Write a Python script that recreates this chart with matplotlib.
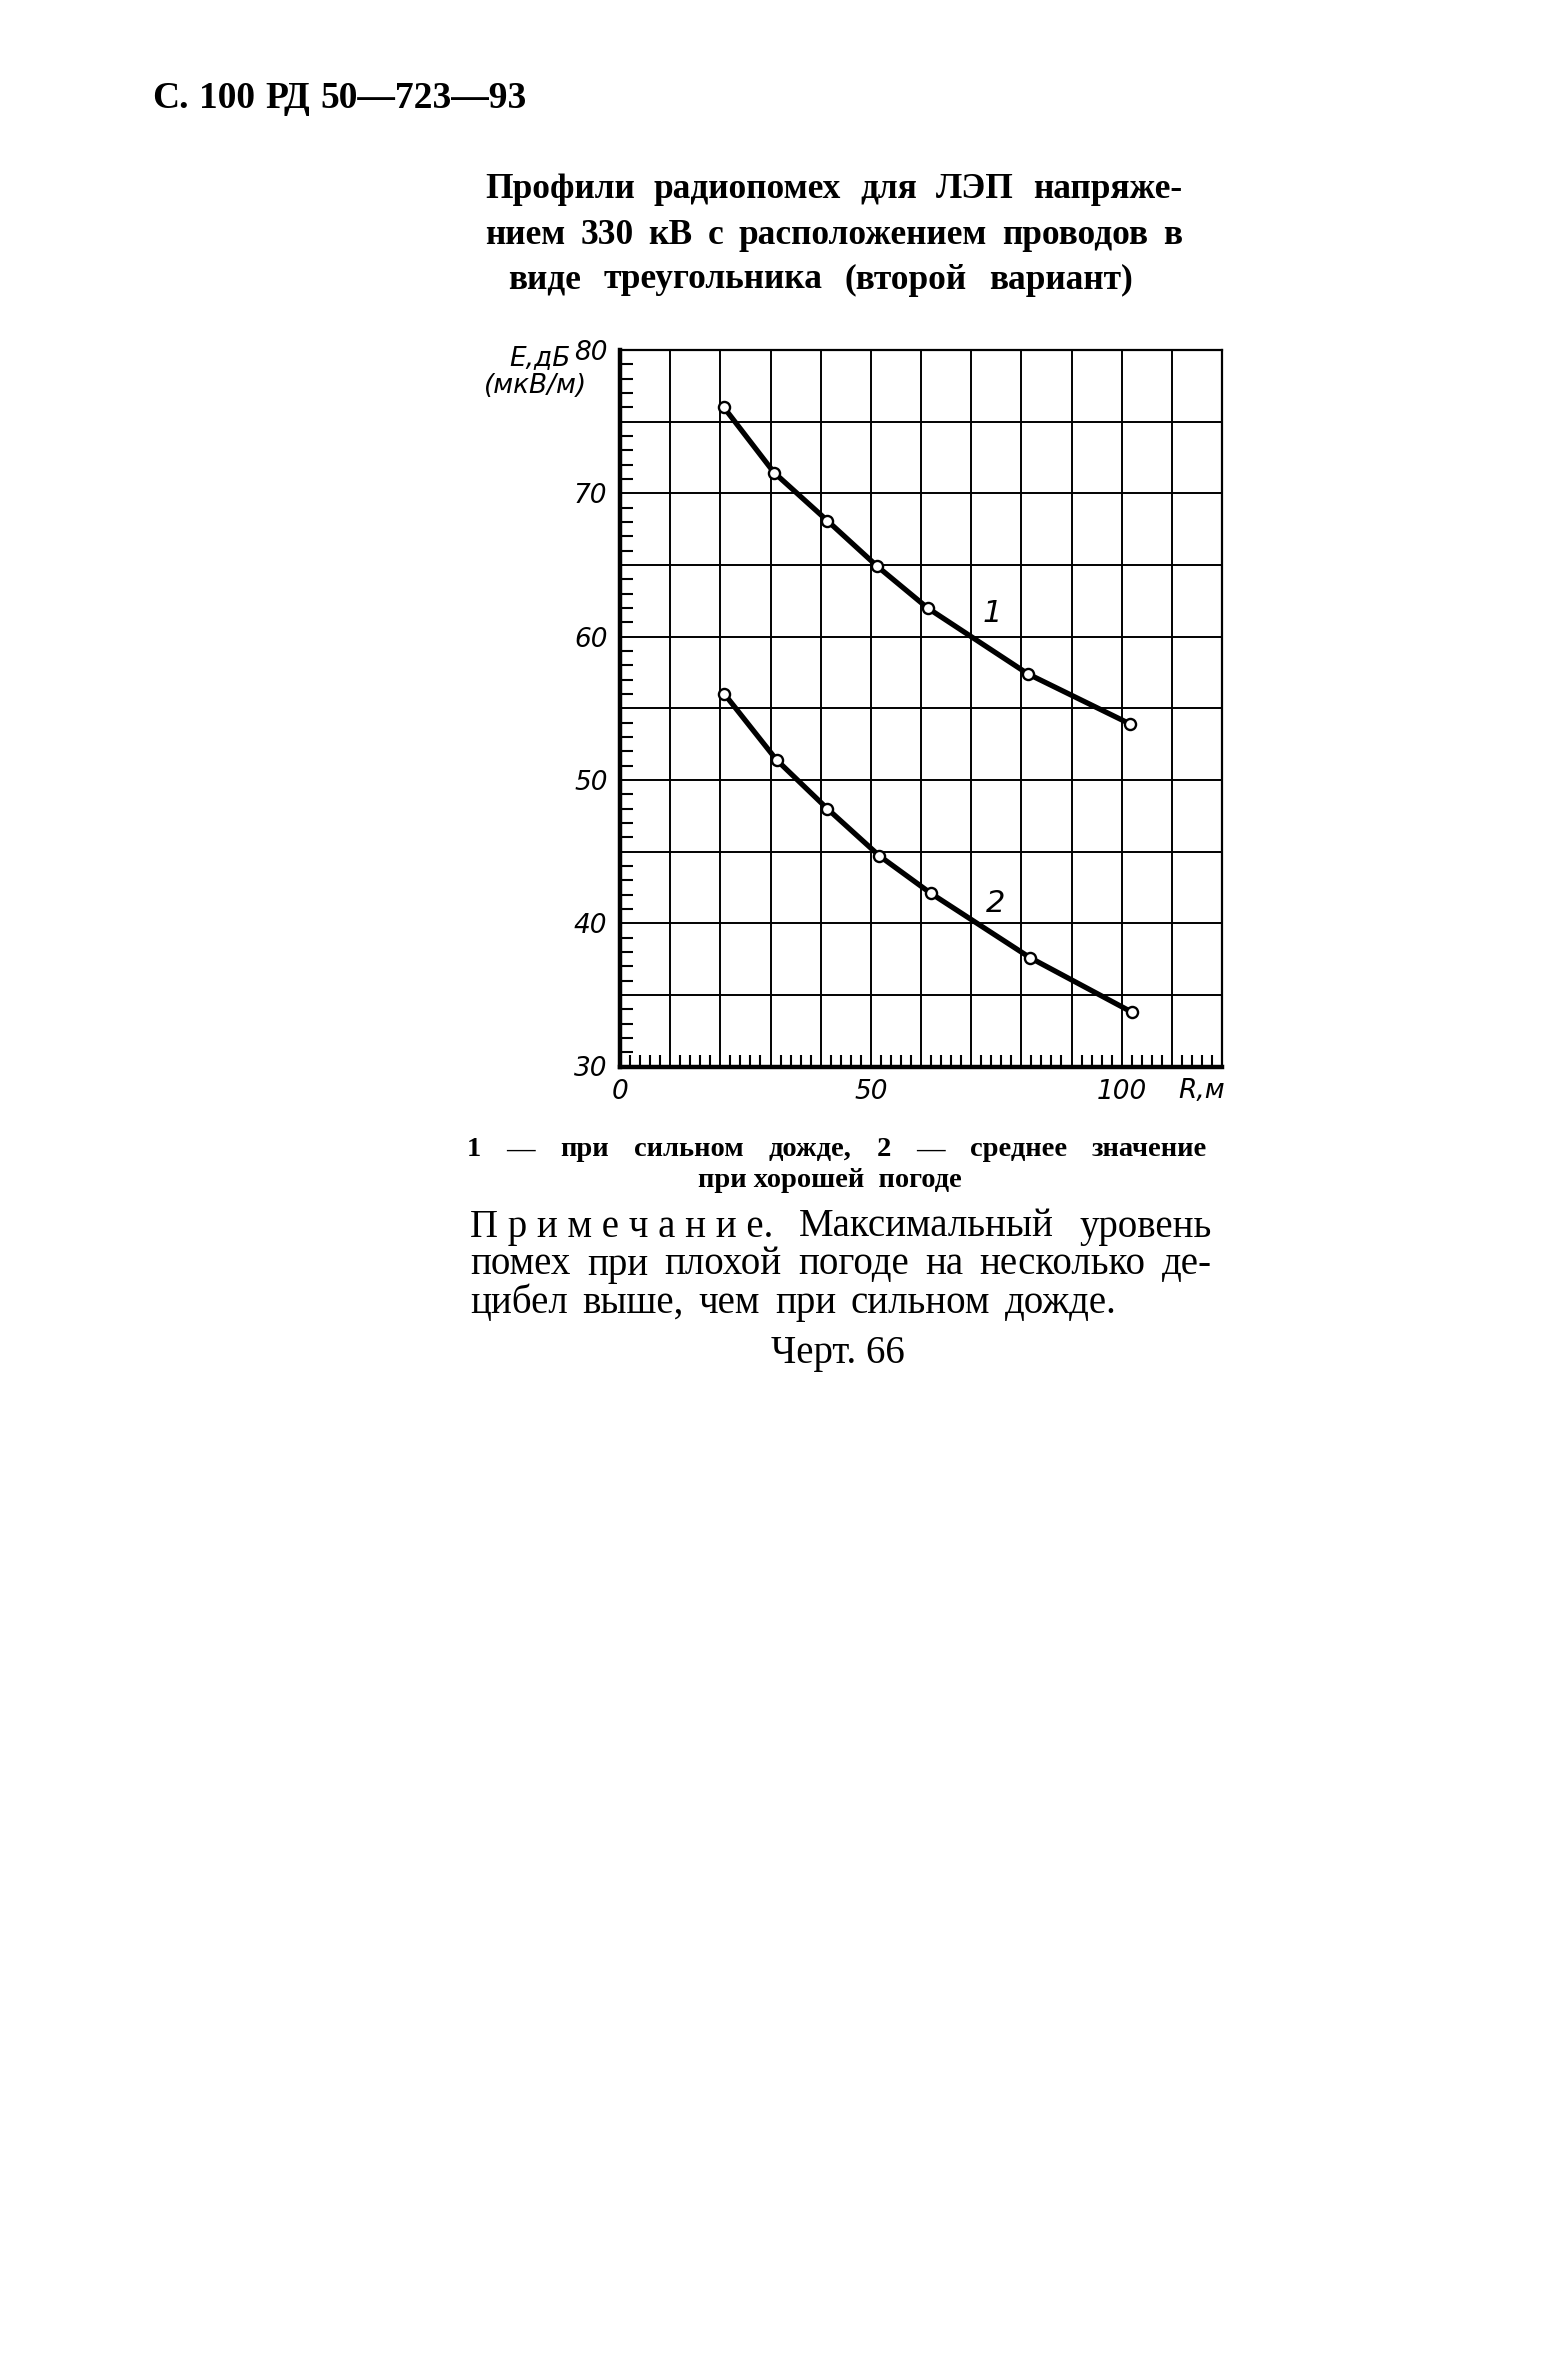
import matplotlib
matplotlib.use("Agg")
import matplotlib.pyplot as plt
from matplotlib.ticker import MultipleLocator

# curve 1 - heavy rain, curve 2 - mean value in good weather
r1 = [20.7, 30.7, 41.3, 51.3, 61.3, 81.3, 101.7]
e1 = [76.0, 71.45, 68.1, 64.9, 62.0, 57.4, 53.9]
r2 = [20.8, 31.2, 41.3, 51.7, 61.9, 81.7, 102.0]
e2 = [56.0, 51.4, 48.0, 44.7, 42.1, 37.6, 33.8]

x_labels = {0: "0", 50: "50", 100: "100"}
y_labels = {30: "30", 40: "40", 50: "50", 60: "60", 70: "70", 80: "80"}

W, H = 1547, 2375
fig = plt.figure(figsize=(W / 100, H / 100), dpi=100)
fig.patch.set_facecolor("white")


def fx(x):
    return x / W


def fy(y):
    return 1 - y / H


SERIF = "Liberation Serif"
TECH = "DejaVu Sans"


def justify(words, x0, x1, y, **kw):
    r = fig.canvas.get_renderer()
    ts = [fig.text(0, fy(y), w, ha="left", va="center", **kw) for w in words]
    ws = [t.get_window_extent(r).width for t in ts]
    gap = (x1 - x0 - sum(ws)) / (len(words) - 1)
    x = x0
    for t, w in zip(ts, ws):
        t.set_x(fx(x))
        x += w + gap


ax = fig.add_axes([fx(620), fy(1066.5), fx(1222) - fx(620), fy(350) - fy(1066.5)])
ax.set_xlim(0, 120)
ax.set_ylim(30, 80)

xt = list(range(0, 121, 10))
ax.set_xticks(xt)
ax.set_xticklabels([x_labels.get(v, "") for v in xt])
yt = list(range(30, 81, 5))
ax.set_yticks(yt)
ax.set_yticklabels([y_labels.get(v, "") for v in yt])
ax.xaxis.set_minor_locator(MultipleLocator(2))
ax.yaxis.set_minor_locator(MultipleLocator(1))
ax.grid(True, which="major", color="black", lw=1.4)
ax.tick_params(which="major", length=0, pad=9, labelsize=19)
ax.tick_params(which="minor", direction="in", length=9, width=1.5)
for lab in ax.get_xticklabels() + ax.get_yticklabels():
    lab.set_fontstyle("italic")
    lab.set_family(TECH)

for s in ["left", "bottom"]:
    ax.spines[s].set_linewidth(3.2)
for s in ["top", "right"]:
    ax.spines[s].set_linewidth(1.6)

for r, e in [(r1, e1), (r2, e2)]:
    ax.plot(r, e, color="black", lw=3.8, zorder=3, solid_capstyle="round")
    ax.plot(r, e, "o", ms=8, mfc="white", mec="black", mew=1.7, zorder=4)

ax.text(74.2, 61.6, "1", fontsize=22, fontstyle="italic", family=TECH, ha="center", va="center")
ax.text(74.8, 41.4, "2", fontsize=22, fontstyle="italic", family=TECH, ha="center", va="center")
ax.text(116, -0.034, "R,м", transform=ax.get_xaxis_transform(), fontsize=19,
        fontstyle="italic", family=TECH, ha="center", va="center")

fig.text(fx(540), fy(358), "E,дБ", fontsize=19, fontstyle="italic", family=TECH, ha="center", va="center")
fig.text(fx(536), fy(386), "(мкВ/м)", fontsize=19, fontstyle="italic", family=TECH, ha="center", va="center")

# header and title
justify("С. 100 РД 50—723—93".split(), 152, 527, 98,
        fontsize=27, fontweight="bold", family=SERIF)
justify("Профили радиопомех для ЛЭП напряже-".split(), 485, 1182, 189,
        fontsize=25.5, fontweight="bold", family=SERIF)
justify("нием 330 кВ с расположением проводов в".split(), 485, 1182, 235,
        fontsize=25.5, fontweight="bold", family=SERIF)
justify("виде треугольника (второй вариант)".split(), 508, 1133, 280,
        fontsize=25.5, fontweight="bold", family=SERIF)

# caption
justify("1 — при сильном дожде, 2 — среднее значение".split(), 467, 1207, 1150,
        fontsize=20.5, fontweight="bold", family=SERIF)
fig.text(fx(830), fy(1180), "при хорошей  погоде", fontsize=20.5, fontweight="bold",
         family=SERIF, ha="center", va="center")

# note
justify(["П р и м е ч а н и е.", "Максимальный", "уровень"], 470, 1212, 1227,
        fontsize=28, family=SERIF)
justify("помех при плохой погоде на несколько де-".split(), 470, 1212, 1265,
        fontsize=28, family=SERIF)
justify("цибел выше, чем при сильном дожде.".split(), 470, 1117, 1303,
        fontsize=28, family=SERIF)
fig.text(fx(838), fy(1353), "Черт. 66", fontsize=28, family=SERIF, ha="center", va="center")

fig.savefig("out.png", dpi=100, facecolor="white")
